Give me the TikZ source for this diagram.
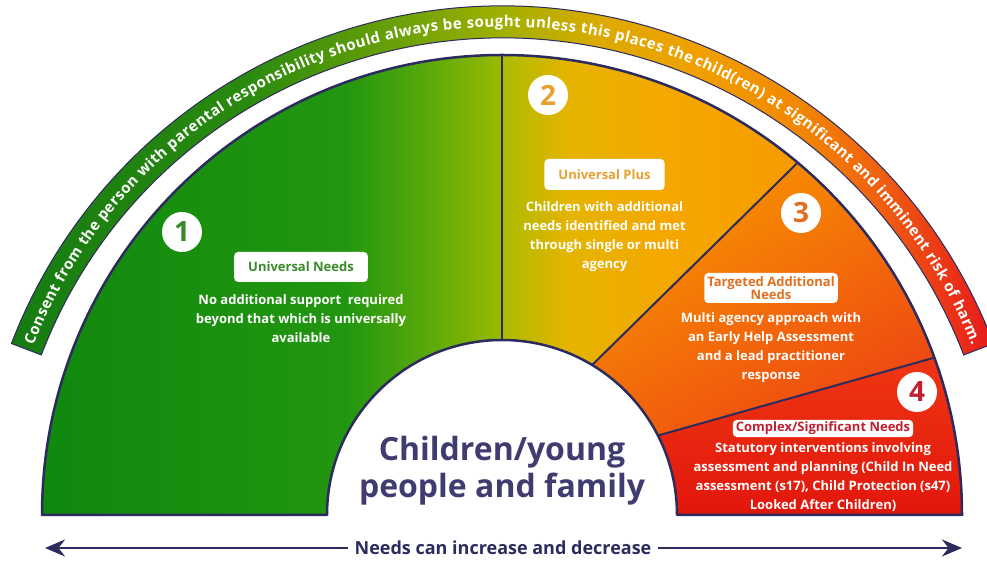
\documentclass[tikz,border=0pt]{standalone}
\usepackage{fontspec}
\setmainfont{Open Sans}
\usepackage{tikz}
\definecolor{navy}{RGB}{44,43,94}
\definecolor{grnA}{RGB}{16,136,14}
\definecolor{grnB}{RGB}{34,150,16}
\definecolor{grnC}{RGB}{96,172,10}
\definecolor{grnD}{RGB}{156,186,0}
\definecolor{yelA}{RGB}{170,188,0}
\definecolor{yelB}{RGB}{228,180,0}
\definecolor{yelC}{RGB}{245,168,0}
\definecolor{yelD}{RGB}{247,154,0}
\definecolor{oraA}{RGB}{248,150,0}
\definecolor{oraB}{RGB}{238,70,18}
\definecolor{redA}{RGB}{238,54,18}
\definecolor{redB}{RGB}{226,22,12}
\definecolor{bndA}{RGB}{22,124,18}
\definecolor{bndB}{RGB}{42,138,14}
\definecolor{bndC}{RGB}{110,162,8}
\definecolor{bndD}{RGB}{160,176,0}
\definecolor{bndE}{RGB}{220,170,0}
\definecolor{bndF}{RGB}{240,160,0}
\definecolor{bndG}{RGB}{242,136,0}
\definecolor{bndH}{RGB}{240,98,16}
\definecolor{bndI}{RGB}{236,60,22}
\definecolor{bndJ}{RGB}{230,26,26}
\definecolor{tagone}{RGB}{58,138,42}
\definecolor{tagtwo}{RGB}{232,160,48}
\definecolor{tagthree}{RGB}{224,112,32}
\definecolor{tagfour}{RGB}{192,32,48}
\definecolor{hubtext}{RGB}{64,60,112}
\usetikzlibrary{positioning,arrows.meta,decorations.text}
\pgfdeclarehorizontalshading{needsone}{100bp}{color(0bp)=(grnA); color(25bp)=(grnA); color(58bp)=(grnB); color(68bp)=(grnC); color(75bp)=(grnD); color(100bp)=(grnD)}
\pgfdeclarehorizontalshading{needstwo}{100bp}{color(0bp)=(yelA); color(25bp)=(yelA); color(36bp)=(yelB); color(52bp)=(yelC); color(75bp)=(yelD); color(100bp)=(yelD)}
\pgfdeclarehorizontalshading{consentband}{100bp}{color(0bp)=(bndA); color(25bp)=(bndA); color(37bp)=(bndB); color(45bp)=(bndC); color(50bp)=(bndD); color(55bp)=(bndE); color(60bp)=(bndF); color(65bp)=(bndG); color(69bp)=(bndH); color(72bp)=(bndI); color(75bp)=(bndJ); color(100bp)=(bndJ)}
\tikzset{%
  domeline/.style={draw=navy, line width=2.5pt, line join=round},% dome outline
  divider/.style={navy, line width=2pt},% line between levels
  numdisc/.style={circle, fill=white, minimum size=40pt, inner sep=0pt,
    font=\bfseries\fontsize{28}{28}\selectfont},% level number
  tagbox/.style={fill=white, rounded corners=4pt, align=center,
    font=\bfseries\fontsize{13}{13}\selectfont},% level name
  blurb/.style={text=white, align=center, inner sep=0pt,
    font=\bfseries\fontsize{13}{19}\selectfont},% level text
  needline/.style={navy, line width=2.5pt, -{Stealth[length=20pt, width=17pt]}}% increase / decrease arrow
}

\begin{document}
\begin{tikzpicture}[x=1pt, y=1pt]
\useasboundingbox (0,0) rectangle (987,561);
\def\domeR{460}
\def\holeR{175}

%%%% consent band
\begin{scope}[shift={(502.5,29)}]
\shadedraw[shading=consentband, draw=navy, line width=1pt] (159:494) arc[start angle=159, end angle=21, radius=494]
  -- (21:526) arc[start angle=21, end angle=159, radius=526] -- cycle;
\path[decorate, decoration={text along path, raise=-5pt, text align={fit to path},
  text={|\color{white}\bfseries\fontsize{15}{15}\selectfont|Consent from the person with parental responsibility should always be sought unless this places the child(ren) at significant and imminent risk of harm.}}]
  (158.3:510) arc[start angle=158.3, end angle=21.7, radius=510];
\end{scope}

%%%% levels
\begin{scope}[shift={(502,46)}]
\shade[shading=needsone] (90:\holeR) -- (90:\domeR) arc[start angle=90, end angle=180, radius=\domeR]
  -- (180:\holeR) arc[start angle=180, end angle=90, radius=\holeR] -- cycle;
\shade[shading=needstwo] (90:\holeR) -- (90:\domeR) arc[start angle=90, end angle=50, radius=\domeR]
  -- (59:\holeR) arc[start angle=59, end angle=90, radius=\holeR] -- cycle;
\shade[top color=oraA, bottom color=oraB, shading angle=30] (59:\holeR) -- (50:\domeR) arc[start angle=50, end angle=20, radius=\domeR]
  -- (27:\holeR) arc[start angle=27, end angle=59, radius=\holeR] -- cycle;
\shade[top color=redA, bottom color=redB] (27:\holeR) -- (20:\domeR) arc[start angle=20, end angle=0, radius=\domeR]
  -- (0:\holeR) arc[start angle=0, end angle=27, radius=\holeR] -- cycle;
\draw[divider] (90:\holeR) -- (90:\domeR);
\draw[divider] (59:\holeR) -- (50:\domeR);
\draw[divider] (27:\holeR) -- (20:\domeR);
\draw[domeline] (180:\holeR) -- (180:\domeR) arc[start angle=180, end angle=0, radius=\domeR]
  -- (0:\holeR) arc[start angle=0, end angle=180, radius=\holeR] -- cycle;
\end{scope}

\node[numdisc, text=tagone] (one) at (182,329) {1};
\node[numdisc, text=tagtwo] (two) at (548,466) {2};
\node[numdisc, text=tagthree] (three) at (801,348) {3};
\node[numdisc, text=tagfour] (four) at (917,169) {4};

\node[tagbox, text=tagone, minimum height=30pt, inner xsep=14pt] (universal) at (301,294) {Universal Needs};
\node[tagbox, text=tagtwo, minimum height=31pt, inner xsep=14pt] (plus) at (604.5,386.5) {Universal Plus};
\node[tagbox, text=tagthree, inner xsep=3pt, inner ysep=3.5pt] (targeted) at (771,273) {Targeted Additional\\Needs};
\node[tagbox, text=tagfour, inner xsep=3pt, inner ysep=2pt] (complex) at (823,132.5) {Complex/Significant Needs};

\node[blurb, below=12pt of universal] (universaltxt) {No additional support\ \ required\\beyond that which is universally\\available};
\node[blurb, below=11pt of plus] (plustxt) {Children with additional\\needs identified and met\\through single or multi\\agency};
\node[blurb, below=9pt of targeted] (targetedtxt) {Multi agency approach with\\an Early Help Assessment\\and a lead practitioner\\response};
\node[blurb, below=5pt of complex] (complextxt) {Statutory interventions involving\\assessment and planning (Child In Need\\assessment (s17), Child Protection (s47)\\Looked After Children)};

\node[text=hubtext, align=center, inner sep=0pt, font=\bfseries\fontsize{32}{37}\selectfont] (family) at (502,90) {Children/young\\people and family};

%%%%
\coordinate (lessend) at (45,13);
\coordinate (moreend) at (962,13);
\node[text=navy, inner xsep=6pt, font=\bfseries\fontsize{18}{18}\selectfont] (needs) at (503,13) {Needs can increase and decrease};
\draw[needline] (needs) -- (lessend);
\draw[needline] (needs) -- (moreend);

\end{tikzpicture}
\end{document}
